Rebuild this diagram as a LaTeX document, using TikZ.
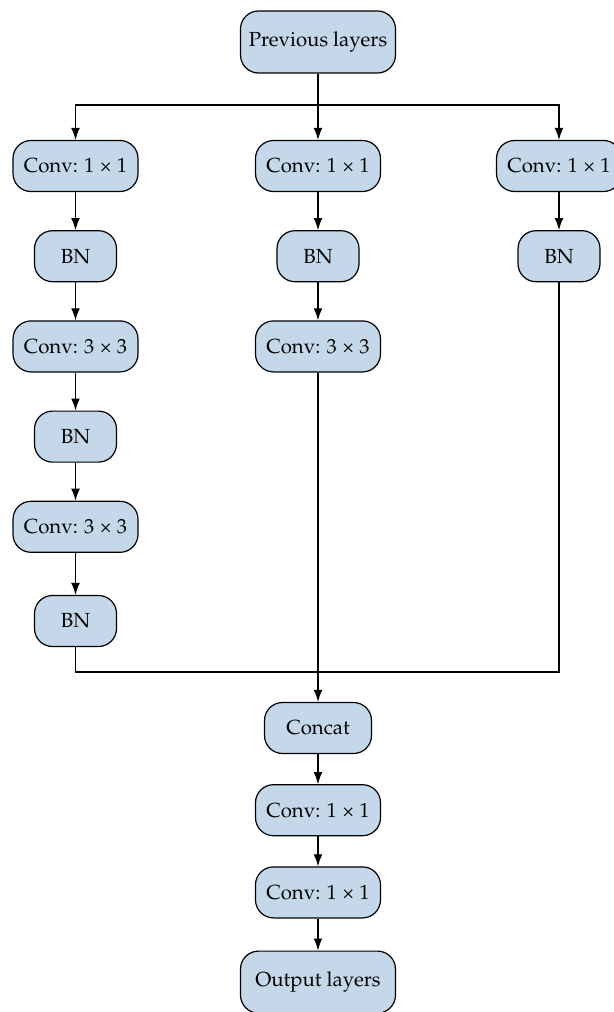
\documentclass[tikz,border=0pt]{standalone}
\usepackage[T1]{fontenc}
\usepackage{textcomp}
\usepackage{mathpazo}
\usetikzlibrary{arrows.meta,positioning}

\definecolor{layerblue}{RGB}{197,216,233}

\tikzset{
  layer/.style={draw, line width=0.6pt, fill=layerblue, rounded corners=9pt,
    minimum height=25.5pt, inner sep=2pt, font=\fontsize{10.2}{12}\selectfont},
  conv/.style={layer, minimum width=62.5pt},
  bn/.style={layer, minimum width=41pt},
  io/.style={layer, minimum width=77.5pt, minimum height=31pt},
  flow/.style={line width=0.6pt, -{Latex[length=6pt,width=4.4pt]}},
  link/.style={line width=0.6pt}
}

\begin{document}
\begin{tikzpicture}[x=0.5pt, y=-0.5pt, node distance=19pt]
    \useasboundingbox (0,0) rectangle (614,1012);

    \node[io] (prev) at (318,42) {Previous layers};
    \coordinate (split) at (318,105);

    % left branch
    \node[conv] (convl1) at (75.5,166) {Conv: 1 \texttimes{} 1};
    \node[bn, below=of convl1] (bnl1) {BN};
    \node[conv, below=of bnl1] (convl2) {Conv: 3 \texttimes{} 3};
    \node[bn, below=of convl2] (bnl2) {BN};
    \node[conv, below=of bnl2] (convl3) {Conv: 3 \texttimes{} 3};
    \node[bn, below=21pt of convl3] (bnl3) {BN};

    % middle branch
    \node[conv] (convm1) at (318,166) {Conv: 1 \texttimes{} 1};
    \node[bn, below=of convm1] (bnm1) {BN};
    \node[conv, below=of bnm1] (convm2) {Conv: 3 \texttimes{} 3};

    % right branch
    \node[conv] (convr1) at (559,166) {Conv: 1 \texttimes{} 1};
    \node[bn, below=of convr1] (bnr1) {BN};

    \coordinate (merge) at (318,672);
    \node[bn, minimum width=53.5pt] (concat) at (318,728) {Concat};
    \node[conv, below=15pt of concat] (convo1) {Conv: 1 \texttimes{} 1};
    \node[conv, below=15pt of convo1] (convo2) {Conv: 1 \texttimes{} 1};
    \node[io, below=16pt of convo2] (out) {Output layers};

    \draw[link] (prev) -- (split);
    \draw[flow] (split) -| (convl1);
    \draw[flow] (split) -- (convm1);
    \draw[flow] (split) -| (convr1);

    \draw[flow] (convl1) -- (bnl1);
    \draw[flow] (bnl1) -- (convl2);
    \draw[flow] (convl2) -- (bnl2);
    \draw[flow] (bnl2) -- (convl3);
    \draw[flow] (convl3) -- (bnl3);

    \draw[flow] (convm1) -- (bnm1);
    \draw[flow] (bnm1) -- (convm2);

    \draw[flow] (convr1) -- (bnr1);

    \draw[link] (bnl3) |- (merge);
    \draw[link] (bnr1) |- (merge);
    \draw[flow] (convm2) -- (concat);

    \draw[flow] (concat) -- (convo1);
    \draw[flow] (convo1) -- (convo2);
    \draw[flow] (convo2) -- (out);
\end{tikzpicture}
\end{document}
